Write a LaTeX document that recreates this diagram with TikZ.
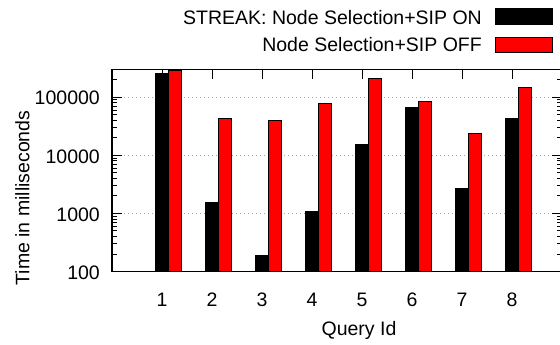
\documentclass[tikz,border=0pt]{standalone}
\usepackage{fontspec}
\setmainfont{Liberation Sans}
\begin{document}
\begin{tikzpicture}[x=1pt,y=1pt,
  every node/.style={inner sep=0pt, font=\fontsize{19.5}{23}\selectfont},
  axisline/.style={line width=1.3pt, black},
  tickline/.style={line width=1pt, black},
  gridline/.style={line width=0.9pt, gray!70, dash pattern=on 1pt off 3pt},
  barB/.style={fill=black, draw=black, line width=1pt},
  barR/.style={fill=red, draw=black, line width=1pt}]
\useasboundingbox (0,0) rectangle (560,345);
\clip (0,0) rectangle (560,345);
% grid
\foreach \y in {131.57,189.64,247.71} \draw[gridline] (112,\y) -- (561.5,\y);
% y ticks (left and mirrored right)
\foreach \k in {0,...,3} {
  \pgfmathsetmacro\yb{73.5+58.07*\k}
  \draw[tickline] (112,\yb) -- ++(10,0);
  \draw[tickline] (561.5,\yb) -- ++(-10,0);
  \foreach \m in {2,...,9} {
    \pgfmathsetmacro\ym{\yb+58.07*log10(\m)}
    \ifdim\ym pt<274pt
      \draw[tickline] (112,\ym) -- ++(5,0);
      \draw[tickline] (561.5,\ym) -- ++(-5,0);
    \fi
  }
}
% x ticks
\foreach \i in {1,...,8} {
  \draw[tickline] ({112+50*\i},275.5) -- ++(0,-10);
  \draw[tickline] ({112+50*\i},73.5) -- ++(0,10);
}
% bars
\foreach \i/\b/\r in {1/271.7/274, 2/142.3/226, 3/89.3/224.3, 4/133.3/241.7,
                      5/200/266.3, 6/237.3/243.7, 7/156/211.3, 8/226/257.3} {
  \draw[barB] ({112+50*\i-6.5},73.5) rectangle ({112+50*\i+6.7},\b);
  \draw[barR] ({112+50*\i+6.7},73.5) rectangle ({112+50*\i+19},\r);
}
% frame
\draw[axisline] (112,73.5) rectangle (561.5,275.5);
% y tick labels
\node[anchor=base east] (y100) at (100,65.8) {100};
\node[anchor=base east] (y1000) at (100,123.87) {1000};
\node[anchor=base east] (y10000) at (100,181.94) {10000};
\node[anchor=base east] (y100000) at (100,240.01) {100000};
% x tick labels
\foreach \i in {1,...,8} \node[anchor=base] (x\i) at ({112+50*\i},38.3) {\i};
% axis labels
\node[anchor=base] (xlab) at (359,9) {Query Id};
\node[rotate=90] (ylab) at (22.5,147) {Time in milliseconds};
% legend
\node[anchor=base east] (leg1) at (482,320) {STREAK: Node Selection+SIP ON};
\node[anchor=base east] (leg2) at (482,293.3) {Node Selection+SIP OFF};
\draw[barB] (495,320.7) rectangle (552.7,336);
\draw[barR] (495,292.7) rectangle (552.7,307.7);
\end{tikzpicture}
\end{document}
